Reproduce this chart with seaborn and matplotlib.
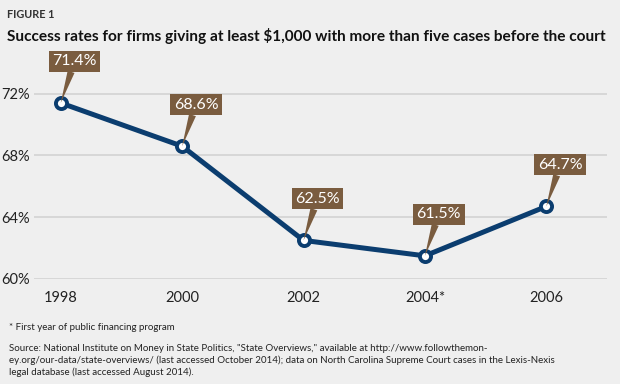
"""Figure 1: success rates for firms giving at least $1,000."""
import matplotlib.pyplot as plt
import pandas as pd
import seaborn as sns

years = ["1998", "2000", "2002", "2004*", "2006"]
success_rate = [71.4, 68.6, 62.5, 61.5, 64.7]
y_ticks = [60, 64, 68, 72]

BG = "#efefef"
BLUE = "#0b3d6f"
BROWN = "#7a5c3f"

df = pd.DataFrame({"year": years, "rate": success_rate})

sns.set_theme(style="white")
plt.rcParams["font.family"] = ["Lato", "DejaVu Sans"]

fig = plt.figure(figsize=(6.2, 3.84), dpi=100, facecolor=BG)
ax = fig.add_axes([34 / 620, 1 - 279 / 384, (607 - 34) / 620, (279 - 52) / 384])
ax.set_facecolor(BG)

sns.lineplot(data=df, x="year", y="rate", sort=False, color=BLUE, lw=3.6,
             marker="o", markersize=8, markerfacecolor="white",
             markeredgecolor=BLUE, markeredgewidth=2.8, ax=ax, zorder=3)

ax.set_xlim(-0.22, 4.5)
ax.set_ylim(60, 74.7)
ax.set_yticks(y_ticks)
ax.set_yticklabels([f"{t}%" for t in y_ticks])
ax.yaxis.grid(True, color="#d3d3d3", lw=1.2)
ax.xaxis.grid(False)
for s in ax.spines.values():
    s.set_visible(False)
ax.tick_params(axis="both", length=0, labelsize=10.5, colors="#222222")
ax.tick_params(axis="y", pad=3)
ax.tick_params(axis="x", pad=9)
ax.set_xlabel("")
ax.set_ylabel("")

for i, v in enumerate(success_rate):
    ax.annotate(f"{v}%", xy=(i, v), xytext=(10, 30), textcoords="offset points",
                ha="center", va="center", color="white", fontsize=11.5,
                bbox=dict(boxstyle="square,pad=0.22", fc=BROWN, ec="none"),
                arrowprops=dict(arrowstyle="wedge,tail_width=0.45,shrink_factor=0.5",
                                fc=BROWN, ec="none", shrinkA=0, shrinkB=0),
                zorder=4)

fig.text(7 / 620, 1 - 15 / 384, "FIGURE 1", fontsize=7.8, fontweight="bold",
         color="#333333", va="center")
fig.text(7 / 620, 1 - 36 / 384,
         "Success rates for firms giving at least $1,000 with more than five cases before the court",
         fontsize=11.1, fontweight="bold", color="#111111", va="center")
fig.text(9 / 620, 1 - 328 / 384, "* First year of public financing program",
         fontsize=7, color="#222222", va="center")
fig.text(9 / 620, 1 - 344 / 384,
         "Source: National Institute on Money in State Politics, \"State Overviews,\" available at http://www.followthemon-\n"
         "ey.org/our-data/state-overviews/ (last accessed October 2014); data on North Carolina Supreme Court cases in the Lexis-Nexis\n"
         "legal database (last accessed August 2014).",
         fontsize=7, color="#222222", va="top", linespacing=1.35)

fig.savefig("out.png", dpi=100, facecolor=BG)
